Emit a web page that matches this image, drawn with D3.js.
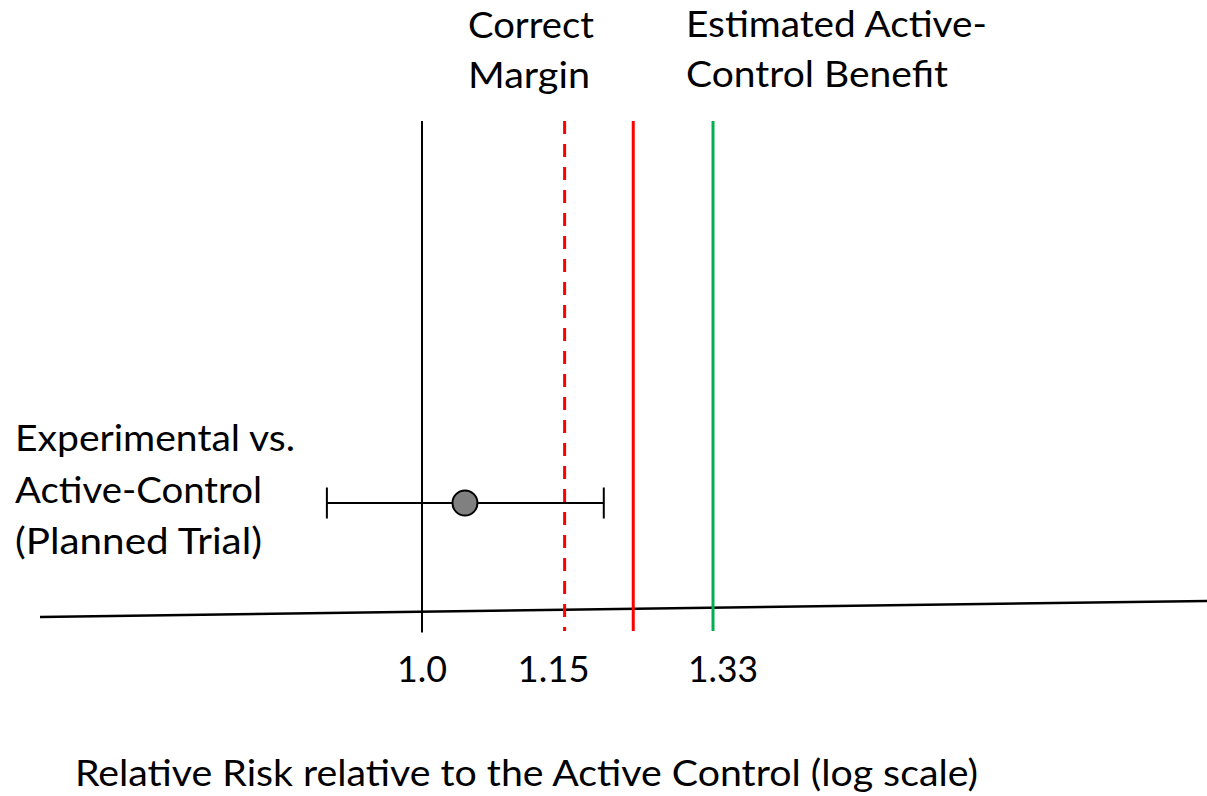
<!DOCTYPE html>
<html>
<head>
<meta charset="utf-8">
<script src="https://cdn.jsdelivr.net/npm/d3@7"></script>
<style>
  html, body { margin: 0; padding: 0; background: #fff; }
  svg { display: block; }
  text { font-family: Lato, "Open Sans", sans-serif; fill: #000; }
</style>
</head>
<body>
<svg id="chart" width="1207" height="796"></svg>
<script>
// Reference lines on the relative-risk axis
const refValues = [1.0, 1.15, 1.23, 1.33];
const refColors = ["#000000", "#ff0000", "#ff0000", "#00b050"];
const refDashed = [false, true, false, false];

// Tick labels under the axis
const tickValues = [1.0, 1.15, 1.33];
const tickLabels = ["1.0", "1.15", "1.33"];

// Planned trial estimate with its confidence interval
const trialLabel = ["Experimental vs.", "Active-Control", "(Planned Trial)"];
const trialEstimate = [1.043];
const trialLower = [0.911];
const trialUpper = [1.195];

// Headers over the margin and benefit lines
const headerMargin = ["Correct", "Margin"];
const headerBenefit = ["Estimated Active-", "Control Benefit"];
const axisTitle = "Relative Risk relative to the Active Control (log scale)";

const svg = d3.select("#chart");
const fontSize = 36.5;

const x = d3.scaleLog().domain([1.0, 1.33]).range([422, 713]);
const y = d3.scaleLinear().domain([0, 1]).range([631, 121]);
const rowY = 503;

// Baseline (drawn with a slight tilt)
svg.append("line")
  .attr("x1", 40).attr("y1", 617)
  .attr("x2", 1207).attr("y2", 601)
  .attr("stroke", "#000").attr("stroke-width", 2.5);

// Vertical reference lines
svg.selectAll("line.ref")
  .data(refValues)
  .join("line")
  .attr("class", "ref")
  .attr("x1", d => x(d)).attr("x2", d => x(d))
  .attr("y1", y(1)).attr("y2", (d, i) => i === 0 ? y(0) + 1.5 : y(0))
  .attr("stroke", (d, i) => refColors[i])
  .attr("stroke-width", (d, i) => i === 0 ? 2 : 3)
  .attr("stroke-dasharray", (d, i) => refDashed[i] ? "13,10" : null);

// Confidence interval
const ci = svg.append("g");
ci.selectAll("line.ci")
  .data(trialEstimate)
  .join("line")
  .attr("x1", (d, i) => x(trialLower[i]))
  .attr("x2", (d, i) => x(trialUpper[i]))
  .attr("y1", rowY).attr("y2", rowY)
  .attr("stroke", "#000").attr("stroke-width", 2);
ci.selectAll("line.cap")
  .data(trialLower.concat(trialUpper))
  .join("line")
  .attr("x1", d => x(d)).attr("x2", d => x(d))
  .attr("y1", rowY - 15.5).attr("y2", rowY + 15.5)
  .attr("stroke", "#000").attr("stroke-width", 2);
ci.selectAll("circle")
  .data(trialEstimate)
  .join("circle")
  .attr("cx", d => x(d)).attr("cy", rowY).attr("r", 12.5)
  .attr("fill", "#808080").attr("stroke", "#000").attr("stroke-width", 2);

// Tick labels
const tickShift = [0, -11, 10];
const tickWidths = [50, 72, 70];
svg.selectAll("text.tick")
  .data(tickValues)
  .join("text")
  .attr("class", "tick")
  .attr("x", (d, i) => x(d) + tickShift[i])
  .attr("y", 682)
  .attr("text-anchor", "middle")
  .attr("font-size", fontSize)
  .attr("textLength", (d, i) => tickWidths[i])
  .attr("lengthAdjust", "spacingAndGlyphs")
  .text((d, i) => tickLabels[i]);

function block(lines, x0, baselines, widths) {
  svg.append("g").selectAll("text")
    .data(lines)
    .join("text")
    .attr("x", x0)
    .attr("y", (d, i) => baselines[i])
    .attr("font-size", fontSize)
    .attr("textLength", (d, i) => widths[i])
    .attr("lengthAdjust", "spacingAndGlyphs")
    .text(d => d);
}

block(headerMargin, 468, [38, 88], [126, 122]);
block(headerBenefit, 686, [37, 87], [301, 262]);
block(trialLabel, 15, [451, 503, 554], [280, 247, 247]);

svg.append("text")
  .attr("x", 75).attr("y", 786)
  .attr("font-size", fontSize)
  .attr("textLength", 903)
  .attr("lengthAdjust", "spacingAndGlyphs")
  .text(axisTitle);
</script>
</body>
</html>
